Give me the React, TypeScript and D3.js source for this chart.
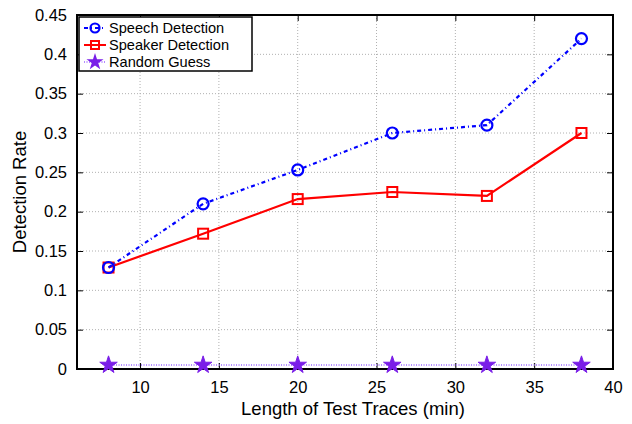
import React, { useEffect, useRef } from 'react';
import * as d3 from 'd3';

const lengths = [8, 14, 20, 26, 32, 38];
const speechRate = [0.129, 0.21, 0.253, 0.3, 0.31, 0.42];
const speakerRate = [0.129, 0.172, 0.216, 0.225, 0.22, 0.3];
const randomRate = [0.005, 0.005, 0.005, 0.005, 0.005, 0.005];
const xTicks = [10, 15, 20, 25, 30, 35, 40];
const yTicks = [0, 0.05, 0.1, 0.15, 0.2, 0.25, 0.3, 0.35, 0.4, 0.45];

const W = 632;
const H = 424;
const FONT = '"Liberation Sans", Arial, Helvetica, sans-serif';

const App = () => {
  const ref = useRef<SVGSVGElement>(null);

  useEffect(() => {
    const svg = d3.select(ref.current);
    svg.selectAll('*').remove();

    const margin = { top: 15, right: 19, bottom: 55, left: 77 };
    const innerW = W - margin.left - margin.right;
    const innerH = H - margin.top - margin.bottom;

    const x = d3.scaleLinear().domain([6, 40]).range([margin.left, margin.left + innerW]);
    const y = d3.scaleLinear().domain([0, 0.45]).range([margin.top + innerH, margin.top]);

    svg.append('rect').attr('width', W).attr('height', H).attr('fill', '#fff');

    // grid
    const grid = svg.append('g').attr('stroke', '#b0b0b0').attr('stroke-width', 1).attr('stroke-dasharray', '1,2');
    grid.selectAll('.gx').data(xTicks.slice(0, -1)).enter().append('line')
      .attr('x1', d => x(d)).attr('x2', d => x(d))
      .attr('y1', margin.top).attr('y2', margin.top + innerH);
    grid.selectAll('.gy').data(yTicks.slice(1, -1)).enter().append('line')
      .attr('x1', margin.left).attr('x2', margin.left + innerW)
      .attr('y1', d => y(d)).attr('y2', d => y(d));

    // axes with inward ticks
    const xAxis = svg.append('g').attr('transform', `translate(0,${margin.top + innerH})`)
      .call(d3.axisBottom(x).tickValues(xTicks).tickSizeInner(-6).tickSizeOuter(0).tickPadding(12));
    const yAxis = svg.append('g').attr('transform', `translate(${margin.left},0)`)
      .call(d3.axisLeft(y).tickValues(yTicks).tickFormat(d => String(+d)).tickSizeInner(-6).tickSizeOuter(0).tickPadding(10));
    // mirrored ticks top/right
    svg.append('g').attr('transform', `translate(0,${margin.top})`)
      .call(d3.axisTop(x).tickValues(xTicks).tickSizeInner(-6).tickSizeOuter(0).tickFormat(() => ''));
    svg.append('g').attr('transform', `translate(${margin.left + innerW},0)`)
      .call(d3.axisRight(y).tickValues(yTicks).tickSizeInner(-6).tickSizeOuter(0).tickFormat(() => ''));
    svg.selectAll('.domain').remove();
    svg.selectAll('.tick line').attr('stroke', '#000').attr('stroke-width', 1);
    [xAxis, yAxis].forEach(a => a.selectAll('text')
      .attr('font-family', FONT).attr('font-size', 16.5).attr('fill', '#000'));

    svg.append('rect')
      .attr('x', margin.left).attr('y', margin.top)
      .attr('width', innerW).attr('height', innerH)
      .attr('fill', 'none').attr('stroke', '#000').attr('stroke-width', 2);

    const pts = (vals: number[]) => lengths.map((l, i) => [x(l), y(vals[i])] as [number, number]);
    const line = d3.line();

    // random guess
    svg.append('path').attr('d', line(pts(randomRate))).attr('fill', 'none')
      .attr('stroke', '#b48cff').attr('stroke-width', 2).attr('stroke-dasharray', '1,1.5');
    const star = d3.symbol().type(d3.symbolStar).size(95);
    svg.selectAll('.star').data(pts(randomRate)).enter().append('path')
      .attr('d', star).attr('transform', d => `translate(${d[0]},${d[1]})`)
      .attr('fill', '#7a1ee8').attr('stroke', '#7a1ee8').attr('stroke-width', 1);

    // speaker detection
    svg.append('path').attr('d', line(pts(speakerRate))).attr('fill', 'none')
      .attr('stroke', '#ff0000').attr('stroke-width', 2.2);
    svg.selectAll('.sq').data(pts(speakerRate)).enter().append('rect')
      .attr('x', d => d[0] - 5).attr('y', d => d[1] - 5).attr('width', 10).attr('height', 10)
      .attr('fill', 'none').attr('stroke', '#ff0000').attr('stroke-width', 2);

    // speech detection
    svg.append('path').attr('d', line(pts(speechRate))).attr('fill', 'none')
      .attr('stroke', '#0000ff').attr('stroke-width', 2.2).attr('stroke-dasharray', '4,3,1,3');
    svg.selectAll('.circ').data(pts(speechRate)).enter().append('circle')
      .attr('cx', d => d[0]).attr('cy', d => d[1]).attr('r', 5.5)
      .attr('fill', 'none').attr('stroke', '#0000ff').attr('stroke-width', 2.2);

    // legend
    const lg = svg.append('g');
    lg.append('rect').attr('x', 79).attr('y', 17).attr('width', 173).attr('height', 54)
      .attr('fill', '#fff').attr('stroke', '#000').attr('stroke-width', 1.5);
    const entries = [
      { label: 'Speech Detection', color: '#0000ff', dash: '4,3,1,3', kind: 'circle' },
      { label: 'Speaker Detection', color: '#ff0000', dash: null, kind: 'square' },
      { label: 'Random Guess', color: '#7a1ee8', dash: '1,1.5', kind: 'star' },
    ];
    entries.forEach((e, i) => {
      const cy = 28 + i * 17;
      lg.append('line').attr('x1', 84).attr('x2', 106).attr('y1', cy).attr('y2', cy)
        .attr('stroke', e.kind === 'star' ? '#b48cff' : e.color).attr('stroke-width', 2)
        .attr('stroke-dasharray', e.dash);
      if (e.kind === 'circle') {
        lg.append('circle').attr('cx', 95).attr('cy', cy).attr('r', 4.5)
          .attr('fill', 'none').attr('stroke', e.color).attr('stroke-width', 2.2);
      } else if (e.kind === 'square') {
        lg.append('rect').attr('x', 91).attr('y', cy - 4).attr('width', 8).attr('height', 8)
          .attr('fill', 'none').attr('stroke', e.color).attr('stroke-width', 2);
      } else {
        lg.append('path').attr('d', d3.symbol().type(d3.symbolStar).size(90)())
          .attr('transform', `translate(95,${cy})`).attr('fill', e.color);
      }
      lg.append('text').attr('x', 109).attr('y', cy + 5).text(e.label)
        .attr('font-family', FONT).attr('font-size', 14.6).attr('fill', '#000');
    });

    // axis labels
    svg.append('text').attr('x', 353).attr('y', 415).attr('text-anchor', 'middle')
      .attr('font-family', FONT).attr('font-size', 18.5).text('Length of Test Traces (min)');
    svg.append('text').attr('transform', `translate(26,192) rotate(-90)`)
      .attr('text-anchor', 'middle').attr('font-family', FONT).attr('font-size', 18.5).text('Detection Rate');
  }, []);

  return (
    <div style={{ position: 'absolute', left: 0, top: 0, width: W, height: H }}>
      <svg ref={ref} width={W} height={H} style={{ display: 'block' }}></svg>
    </div>
  );
};

export default App;
